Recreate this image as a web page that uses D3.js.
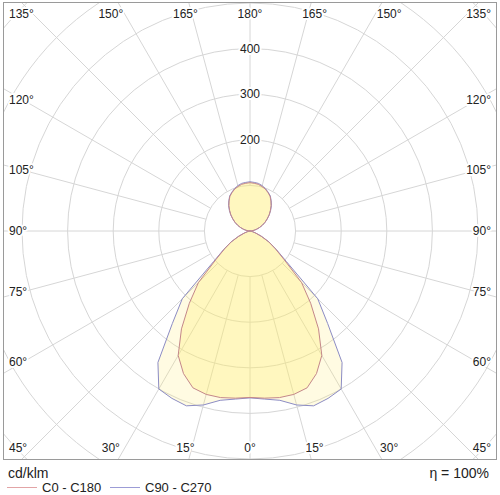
<!DOCTYPE html>
<html>
<head>
<meta charset="utf-8">
<script src="https://cdn.jsdelivr.net/npm/d3@7"></script>
<style>
  body { margin: 0; background: #fff; }
  svg text { font-family: "Liberation Sans", Arial, sans-serif; fill: #222; }
  .halo { paint-order: stroke; stroke: #fff; stroke-width: 4px; stroke-linejoin: round; }
</style>
</head>
<body>
<div id="chart"></div>
<script>
/*
* Polar light distribution curve (cd/klm)
*/

// gamma angles, 0 = straight down, 180 = straight up
const gammaAngles = [0, 5, 10, 15, 20, 25, 30, 35, 40, 45, 50, 55, 60, 65, 70, 75, 80, 85, 90,
  95, 100, 105, 110, 115, 120, 125, 130, 135, 140, 145, 150, 155, 160, 165, 170, 175, 180];

const c0c180 = [365, 368, 371, 371, 366, 345, 315, 262, 207, 160, 98, 68, 47, 27, 13, 6, 3, 1, 0,
  3, 9, 15, 22, 30, 38, 46, 55, 63, 72, 80, 88, 93, 98, 101, 104, 105, 106];

const c90c270 = [366, 370, 377, 395, 408, 405, 400, 352, 265, 210, 104, 70, 48, 28, 14, 6, 3, 1, 0,
  3, 9, 15, 22, 30, 38, 46, 55, 64, 73, 81, 89, 94, 99, 103, 106, 107, 108];

const ringValues = [100, 200, 300, 400, 500, 600, 700];
const ringLabels = [200, 300, 400];
const angleTicks = [0, 15, 30, 45, 60, 75, 90, 105, 120, 135, 150, 165, 180];

const seriesNames = ['C0 - C180', 'C90 - C270'];
const unitLabel = 'cd/klm';
const effLabel = 'η = 100%';

const W = 500, H = 495;
const cx = 250, cy = 231;
const frame = { x: 3.5, y: 2.5, w: 493, h: 457 };

let COLORS = {
  grid: '#d6d6d6',
  frame: '#9a9a9a',
  c0Stroke: '#c4878a',
  c90Stroke: '#8c8cc4',
  c0Fill: 'rgba(255, 240, 110, 0.30)',
  c90Fill: 'rgba(255, 236, 110, 0.20)',
  c0Legend: '#e2a4a6',
  c90Legend: '#9c9cd6'
};

let r = d3.scaleLinear().domain([0, 700]).range([0, 319.2]);

let svg = d3.select('#chart').append('svg')
  .attr('width', W)
  .attr('height', H);

svg.append('clipPath').attr('id', 'frameClip')
  .append('rect')
  .attr('x', frame.x).attr('y', frame.y)
  .attr('width', frame.w).attr('height', frame.h);

let plot = svg.append('g')
  .attr('clip-path', 'url(#frameClip)');

let g = plot.append('g')
  .attr('transform', 'translate(' + cx + ',' + cy + ')');

// rings
g.selectAll('.ring')
  .data(ringValues)
  .enter().append('circle')
  .attr('r', function (d) { return r(d); })
  .attr('fill', 'none')
  .attr('stroke', COLORS.grid)
  .attr('stroke-width', 1);

// radial lines every 15 deg, starting at the first ring
let spokes = d3.range(0, 360, 15);
g.selectAll('.spoke')
  .data(spokes)
  .enter().append('line')
  .attr('x1', function (d) { return r(100) * Math.sin(d * Math.PI / 180); })
  .attr('y1', function (d) { return r(100) * Math.cos(d * Math.PI / 180); })
  .attr('x2', function (d) { return r(800) * Math.sin(d * Math.PI / 180); })
  .attr('y2', function (d) { return r(800) * Math.cos(d * Math.PI / 180); })
  .attr('stroke', COLORS.grid)
  .attr('stroke-width', 1);

// full closed curve: right half (C0 / C90) then mirrored left half
function curvePoints(values) {
  let pts = [];
  gammaAngles.forEach(function (a, i) {
    pts.push([Math.PI - a * Math.PI / 180, r(values[i])]);
  });
  for (let i = gammaAngles.length - 2; i > 0; i--) {
    pts.push([Math.PI + gammaAngles[i] * Math.PI / 180, r(values[i])]);
  }
  return pts;
}

let radial = d3.lineRadial()
  .angle(function (d) { return d[0]; })
  .radius(function (d) { return d[1]; })
  .curve(d3.curveLinearClosed);

g.append('path')
  .attr('d', radial(curvePoints(c90c270)))
  .attr('fill', COLORS.c90Fill)
  .attr('stroke', 'none');

g.append('path')
  .attr('d', radial(curvePoints(c0c180)))
  .attr('fill', COLORS.c0Fill)
  .attr('stroke', 'none');

g.append('path')
  .attr('d', radial(curvePoints(c90c270)))
  .attr('fill', 'none')
  .attr('stroke', COLORS.c90Stroke)
  .attr('stroke-width', 1);

g.append('path')
  .attr('d', radial(curvePoints(c0c180)))
  .attr('fill', 'none')
  .attr('stroke', COLORS.c0Stroke)
  .attr('stroke-width', 1);

// ring value labels on the upward axis
g.selectAll('.ring-label')
  .data(ringLabels)
  .enter().append('text')
  .attr('class', 'halo')
  .attr('x', 0)
  .attr('y', function (d) { return -r(d); })
  .attr('dy', '0.35em')
  .attr('text-anchor', 'middle')
  .style('font-size', '12px')
  .text(function (d) { return d; });

// angle labels around the frame
let angleLabels = [];
angleTicks.forEach(function (t) {
  let sides = (t === 0 || t === 180) ? [1] : [-1, 1];
  sides.forEach(function (s) {
    let lab = { text: t + '°' };
    if (t <= 45 || t >= 135) {
      let phi = t <= 45 ? t : 180 - t;
      lab.y = t <= 45 ? 448 : 14;
      if (phi === 45) {
        lab.x = s < 0 ? 9 : 491;
        lab.anchor = s < 0 ? 'start' : 'end';
      } else {
        lab.x = cx + s * 241 * Math.tan(phi * Math.PI / 180);
        lab.anchor = 'middle';
      }
    } else {
      lab.x = s < 0 ? 9 : 491;
      lab.anchor = s < 0 ? 'start' : 'end';
      lab.y = cy - 227 * Math.tan((t - 90) * Math.PI / 180);
    }
    angleLabels.push(lab);
  });
});

svg.selectAll('.angle-label')
  .data(angleLabels)
  .enter().append('text')
  .attr('class', 'halo')
  .attr('x', function (d) { return d.x; })
  .attr('y', function (d) { return d.y; })
  .attr('dy', '0.35em')
  .attr('text-anchor', function (d) { return d.anchor; })
  .style('font-size', '12px')
  .text(function (d) { return d.text; });

// frame
svg.append('rect')
  .attr('x', frame.x).attr('y', frame.y)
  .attr('width', frame.w).attr('height', frame.h)
  .attr('fill', 'none')
  .attr('stroke', COLORS.frame)
  .attr('stroke-width', 1);

// footer
svg.append('text')
  .attr('x', 8).attr('y', 478)
  .style('font-size', '14px')
  .text(unitLabel);

svg.append('text')
  .attr('x', 489).attr('y', 478)
  .attr('text-anchor', 'end')
  .style('font-size', '14px')
  .text(effLabel);

let legend = svg.selectAll('.legend')
  .data(seriesNames)
  .enter().append('g')
  .attr('transform', function (d, i) { return 'translate(' + (7 + i * 103) + ',487.5)'; });

legend.append('line')
  .attr('x1', 0).attr('x2', 30)
  .attr('stroke', function (d, i) { return i === 0 ? COLORS.c0Legend : COLORS.c90Legend; })
  .attr('stroke-width', 1);

legend.append('text')
  .attr('x', 35).attr('y', 0)
  .attr('dy', '0.35em')
  .style('font-size', '13px')
  .text(function (d) { return d; });
</script>
</body>
</html>
